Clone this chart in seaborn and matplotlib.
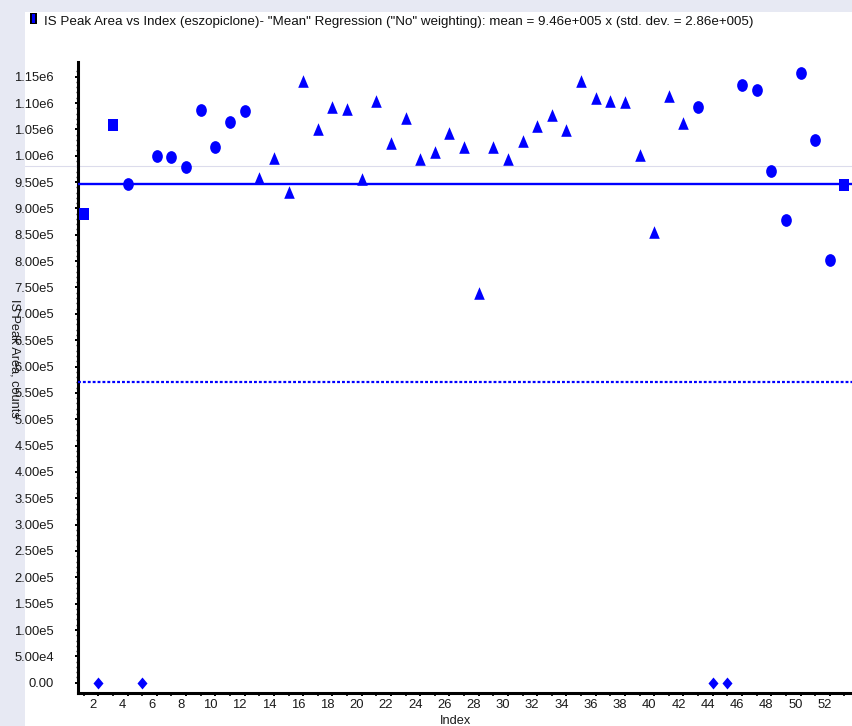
import numpy as np
import pandas as pd
import matplotlib
matplotlib.use("Agg")
import matplotlib.pyplot as plt
import seaborn as sns
from matplotlib.path import Path
from matplotlib.patches import Rectangle
from matplotlib.transforms import ScaledTranslation

# ---------------- data ----------------
index = list(range(1, 54))
sample_type = (["Standard", "Blank", "Standard", "QC", "Blank"]
               + ["QC"] * 7
               + ["Unknown"] * 30
               + ["QC", "Blank", "Blank"]
               + ["QC"] * 7
               + ["Standard"])
peak_area = [889000, 0, 1058000, 946000, 0,
             1000000, 997500, 979000, 1087000, 1017000, 1064000, 1085500,
             957500, 995500, 932000, 1142000, 1050500, 1092500, 1088500, 956000,
             1104000, 1024000, 1071500, 994000, 1007000, 1044000, 1016000, 740000,
             1016000, 993000, 1027500, 1056000, 1077000, 1049000, 1142000, 1110000,
             1104000, 1102500, 1002000, 854500, 1113000, 1062000,
             1092500, 0, 0,
             1134000, 1125000, 971000, 878000, 1157000, 1029000, 802000,
             944500]
mean_value = 9.46e5
lower_limit = 5.70e5
ref_line = 9.805e5

x_tick_values = list(range(2, 53, 2))
x_tick_labels = [str(v) for v in x_tick_values]
y_tick_values = [i * 50000 for i in range(24)]
y_tick_labels = ["0.00", "5.00e4", "1.00e5", "1.50e5", "2.00e5", "2.50e5",
                 "3.00e5", "3.50e5", "4.00e5", "4.50e5", "5.00e5", "5.50e5",
                 "6.00e5", "6.50e5", "7.00e5", "7.50e5", "8.00e5", "8.50e5",
                 "9.00e5", "9.50e5", "1.00e6", "1.05e6", "1.10e6", "1.15e6"]

title = ('IS Peak Area vs Index (eszopiclone)- "Mean" Regression ("No" weighting): '
         'mean = 9.46e+005 x (std. dev. = 2.86e+005)')

df = pd.DataFrame({"Index": index, "Area": peak_area, "Type": sample_type})

# ---------------- style ----------------
sns.set_style("ticks")
plt.rcParams["font.family"] = ["Liberation Sans", "DejaVu Sans"]

W, H = 852, 726
fig = plt.figure(figsize=(W / 100, H / 100), dpi=100)
BG = "#e7e9f3"
fig.patch.set_facecolor(BG)
fig.patches.append(Rectangle((25 / W, 0), 1 - 25 / W, 1 - 12 / H,
                             transform=fig.transFigure, facecolor="white",
                             edgecolor="none", zorder=-5))

ax = fig.add_axes([78 / W, 33 / H, 774 / W, 631 / H])
ax.set_facecolor("none")
ax.set_zorder(2)

# custom marker shapes (slightly taller than wide)
circ = Path.unit_circle()
ellipse = Path(circ.vertices * np.array([0.42, 0.5]), circ.codes)
square = Path([(-0.42, -0.5), (0.42, -0.5), (0.42, 0.5), (-0.42, 0.5), (-0.42, -0.5)],
              [Path.MOVETO, Path.LINETO, Path.LINETO, Path.LINETO, Path.CLOSEPOLY])
triangle = Path([(0, 0.5), (-0.42, -0.5), (0.42, -0.5), (0, 0.5)],
                [Path.MOVETO, Path.LINETO, Path.LINETO, Path.CLOSEPOLY])
diamond = Path([(0, 0.5), (0.42, 0), (0, -0.5), (-0.42, 0), (0, 0.5)],
               [Path.MOVETO, Path.LINETO, Path.LINETO, Path.LINETO, Path.CLOSEPOLY])

marker_map = {"Standard": (square, 70), "Blank": (diamond, 74),
              "QC": (ellipse, 84), "Unknown": (triangle, 82)}

BLUE = "#0000ff"
for t, (mk, sz) in marker_map.items():
    sub = df[df["Type"] == t]
    sns.scatterplot(data=sub, x="Index", y="Area", marker=mk, s=sz,
                    color=BLUE, linewidth=0, ax=ax, zorder=4, legend=False)

ax.axhline(mean_value, color=BLUE, lw=1.7, zorder=3)
ax.axhline(lower_limit, color=BLUE, lw=1.6, ls=(0, (1.3, 0.9)), zorder=3)
ax.axhline(ref_line, xmin=(25 - 78) / 774, xmax=1, color="#dcdcec", lw=0.8,
           clip_on=False, zorder=1)

ax.set_xlim(0.61, 53.52)
ax.set_ylim(-19500, 1177800)

ax.set_xticks(x_tick_values)
ax.set_xticklabels(x_tick_labels)
ax.set_xticks(list(range(1, 54, 2)), minor=True)
ax.set_yticks(y_tick_values)
ax.set_yticklabels(y_tick_labels)
ax.set_yticks(list(range(0, 1170000, 10000)), minor=True)

ax.tick_params(axis="x", which="major", direction="out", length=2.3, width=1.4,
               pad=2.0, labelsize=9.4, colors="black", labelcolor="#1a1a1a")
ax.tick_params(axis="x", which="minor", direction="out", length=2.3, width=1.4)
ax.tick_params(axis="y", which="major", direction="out", length=2.0, width=1.4,
               pad=15.3, labelsize=9.4, colors="black", labelcolor="#1a1a1a")
ax.tick_params(axis="y", which="minor", direction="out", length=1.2, width=1.0)
ax.set_xlabel("")
ax.set_ylabel("")

for side in ["top", "right"]:
    ax.spines[side].set_visible(False)
for side in ["left", "bottom"]:
    ax.spines[side].set_linewidth(2.2)
    ax.spines[side].set_color("black")

shift = ScaledTranslation(-5 / 100, 0, fig.dpi_scale_trans)
for lbl in ax.get_xticklabels():
    lbl.set_transform(lbl.get_transform() + shift)

# labels & title
fig.text(14 / W, 1 - 358 / H, "IS Peak Area, counts", rotation=270,
         ha="center", va="center", fontsize=9.2, color="#1a1a1a", zorder=3)
fig.text(456 / W, 1 - 721 / H, "Index", ha="center", va="center", fontsize=9.2,
         color="#1a1a1a")
fig.patches.append(Rectangle((30 / W, 1 - 24 / H), 6.5 / W, 11.5 / H,
                             transform=fig.transFigure, facecolor="black",
                             edgecolor="none", zorder=2))
fig.patches.append(Rectangle((31.7 / W, 1 - 22.5 / H), 3.2 / W, 8.5 / H,
                             transform=fig.transFigure, facecolor=BLUE,
                             edgecolor="none", zorder=3))
fig.text(44 / W, 1 - 25 / H, title, ha="left", va="baseline", fontsize=9.6,
         color="#111111")

fig.savefig("out.png", dpi=100, facecolor=fig.get_facecolor())
